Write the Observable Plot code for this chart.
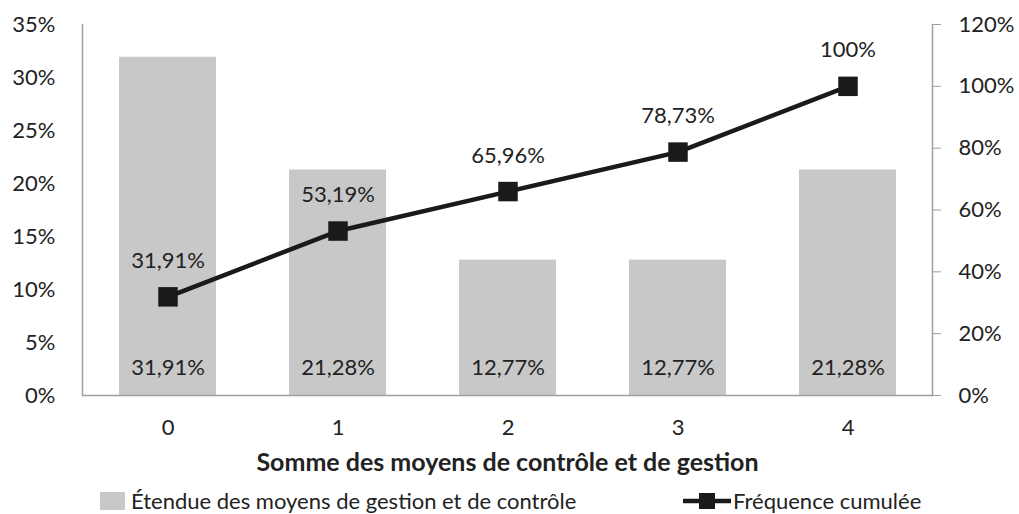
<!DOCTYPE html>
<html>
<head>
<meta charset="utf-8">
<script src="https://cdn.jsdelivr.net/npm/d3@7"></script>
<script src="https://cdn.jsdelivr.net/npm/@observablehq/plot@0.6"></script>
<style>
  html, body { margin: 0; padding: 0; background: #fff; }
  body { width: 1019px; height: 514px; overflow: hidden; font-family: Lato, "Open Sans", sans-serif; color: #222; }
  #legend { position: relative; width: 1019px; height: 34px; font-size: 22px; }
  .item { position: absolute; top: 9px; height: 24px; line-height: 24px; display: flex; align-items: center; white-space: nowrap; }
</style>
</head>
<body>
<div id="chart"></div>
<div id="legend"></div>
<script>
const categories = ["0", "1", "2", "3", "4"];
const freq = [0.3191, 0.2128, 0.1277, 0.1277, 0.2128];
const cumul = [0.3191, 0.5319, 0.6596, 0.7873, 1.0];
const freqLabels = ["31,91%", "21,28%", "12,77%", "12,77%", "21,28%"];
const cumulLabels = ["31,91%", "53,19%", "65,96%", "78,73%", "100%"];
const leftTicks = [0, 0.05, 0.10, 0.15, 0.20, 0.25, 0.30, 0.35];
const leftTickLabels = ["0%", "5%", "10%", "15%", "20%", "25%", "30%", "35%"];
const rightTicks = [0, 0.2, 0.4, 0.6, 0.8, 1.0, 1.2];
const rightTickLabels = ["0%", "20%", "40%", "60%", "80%", "100%", "120%"];
const xTitle = "Somme des moyens de contrôle et de gestion";
const seriesBar = "Étendue des moyens de gestion et de contrôle";
const seriesLine = "Fréquence cumulée";

const leftMax = 0.35, rightMax = 1.2;
const toLeft = v => v * leftMax / rightMax;

const data = categories.map((c, i) => ({
  cat: c, freq: freq[i], cumul: cumul[i], cumulY: toLeft(cumul[i]),
  freqLabel: freqLabels[i], cumulLabel: cumulLabels[i]
}));

const barColor = "#c8c8c8";
const axisColor = "#a0a0a0";
const textColor = "#222";

const chart = Plot.plot({
  width: 1019,
  height: 480,
  marginLeft: 82,
  marginRight: 87,
  marginTop: 24,
  marginBottom: 85,
  style: { fontFamily: "Lato, 'Open Sans', sans-serif", fontSize: "22px", color: textColor, background: "#fff" },
  x: { domain: categories, paddingInner: 0.43, paddingOuter: 0.215, label: null },
  y: { domain: [0, leftMax], label: null },
  marks: [
    Plot.barY(data, { x: "cat", y: "freq", fill: barColor }),
    Plot.frame({ anchor: "left", stroke: axisColor, strokeWidth: 1.5 }),
    Plot.frame({ anchor: "right", stroke: axisColor, strokeWidth: 1.5 }),
    Plot.ruleY([0], { stroke: axisColor, strokeWidth: 1.5 }),
    Plot.axisY(leftTicks, { anchor: "left", tickSize: 0, tickPadding: 27, tickFormat: (d, i) => leftTickLabels[i], label: null, fill: textColor }),
    Plot.axisY(rightTicks.map(toLeft), { anchor: "right", tickSize: 8, tickPadding: 18, tickFormat: (d, i) => rightTickLabels[i], label: null, stroke: axisColor, fill: textColor }),
    Plot.axisX({ tickSize: 0, tickPadding: 24, label: null, fill: textColor }),
    Plot.text([xTitle], { frameAnchor: "bottom", lineAnchor: "middle", dy: 67, fontWeight: "bold", fontSize: 25, fill: textColor }),
    Plot.text(data, { x: "cat", y: 0, text: "freqLabel", dy: -28, fill: textColor }),
    Plot.line(data, { x: "cat", y: "cumulY", stroke: "#1a1a1a", strokeWidth: 4.5 }),
    Plot.dot(data, { x: "cat", y: "cumulY", symbol: "square", r: 11, fill: "#1a1a1a", stroke: "none" }),
    Plot.text(data, { x: "cat", y: "cumulY", text: "cumulLabel", dy: -36, fill: textColor })
  ]
});
document.getElementById("chart").appendChild(chart);

const legend = document.getElementById("legend");
legend.innerHTML = `
  <div class="item" style="left:100px">
    <span style="display:inline-block;width:25px;height:18px;background:${barColor};margin-right:6px"></span>${seriesBar}
  </div>
  <div class="item" style="left:683px">
    <svg width="48" height="24" style="margin-right:2px"><line x1="0" y1="12" x2="48" y2="12" stroke="#1a1a1a" stroke-width="4.5"/><rect x="16" y="4" width="16" height="16" fill="#1a1a1a"/></svg>${seriesLine}
  </div>`;
</script>
</body>
</html>
